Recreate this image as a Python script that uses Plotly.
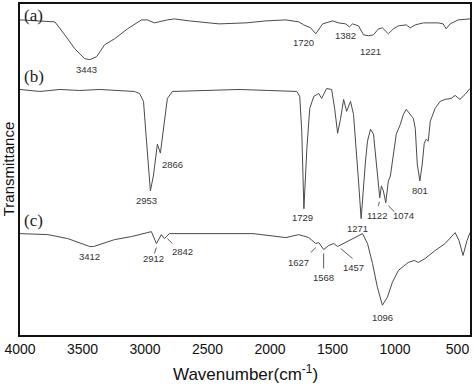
import plotly.graph_objects as go

# ---- data: wavenumber (cm-1) and relative transmittance (arbitrary, offset) ----
wn_a = [4000, 3721, 3642, 3562, 3482, 3442, 3387, 3323, 3243, 3140, 3028, 2980, 2925, 2869,
        2821, 2765, 2646, 2407, 2192, 2033, 1873, 1770, 1730, 1674, 1634, 1579, 1499, 1451,
        1396, 1364, 1340, 1292, 1252, 1212, 1172, 1133, 1101, 1053, 1013, 973, 910, 878, 838,
        774, 655, 615, 591, 559, 495, 400]
tr_a = [317, 315, 302, 288, 278, 277, 280, 292, 298, 308, 317, 317, 314, 316,
        317, 318, 316, 313, 314, 316, 317, 315, 312, 309, 303, 313, 316, 314,
        313, 310, 313, 311, 302, 301, 302, 308, 309, 303, 308, 311, 312, 309, 312,
        314, 314, 313, 308, 313, 317, 318]

wn_b = [4000, 3841, 3681, 3522, 3363, 3204, 3084, 3044, 3012, 2988, 2957, 2933, 2901, 2877,
        2845, 2821, 2781, 2566, 2248, 2009, 1786, 1762, 1746, 1729, 1705, 1682, 1650, 1610,
        1587, 1547, 1507, 1483, 1459, 1435, 1411, 1387, 1356, 1332, 1308, 1292, 1271, 1252,
        1236, 1220, 1196, 1172, 1149, 1122, 1109, 1093, 1074, 1053, 1037, 1013, 990, 957,
        933, 910, 878, 854, 838, 822, 801, 782, 766, 750, 734, 718, 679, 639, 599, 551,
        519, 480, 440, 400]
tr_b = [247, 245, 247, 246, 247, 246, 245, 243, 235, 195, 145, 160, 192, 183,
        215, 238, 245, 246, 247, 246, 245, 240, 205, 127, 188, 228, 240, 243,
        238, 248, 247, 228, 203, 218, 237, 225, 235, 222, 185, 155, 117, 150,
        175, 195, 207, 202, 172, 138, 150, 145, 133, 155, 160, 180, 202, 212,
        222, 227, 222, 218, 208, 172, 155, 172, 193, 197, 195, 215, 228, 235, 237, 238,
        241, 237, 242, 248]

wn_c = [4000, 3777, 3618, 3442, 3411, 3243, 3108, 2949, 2909, 2869, 2845, 2805, 2208, 2136,
        1873, 1770, 1690, 1634, 1610, 1571, 1531, 1491, 1459, 1372, 1292, 1260, 1220, 1180,
        1141, 1101, 1061, 1021, 973, 894, 846, 814, 758, 679, 599, 519, 488, 456, 424, 400]
tr_c = [102, 101, 97, 89, 89, 96, 99, 104, 92, 101, 97, 102, 102, 102,
        98, 101, 98, 92, 93, 86, 90, 92, 89, 95, 100, 102, 92, 72,
        48, 30, 38, 53, 65, 73, 75, 73, 77, 85, 92, 103, 95, 80, 95, 103]

panel_labels = ["(a)", "(b)", "(c)"]
peak_labels = ["3443", "1720", "1382", "1221",
               "2953", "2866", "1729", "1271", "1122", "1074", "801",
               "3412", "2912", "2842", "1627", "1568", "1457", "1096"]
x_ticks = [4000, 3500, 3000, 2500, 2000, 1500, 1000, 500]

LINE = "#4a4a4a"
TXT = "#333333"

fig = go.Figure()
for wn, tr in [(wn_a, tr_a), (wn_b, tr_b), (wn_c, tr_c)]:
    fig.add_trace(go.Scatter(x=wn, y=tr, mode="lines",
                             line=dict(color=LINE, width=1), showlegend=False,
                             hoverinfo="skip"))

# peak label positions (x in cm-1, y in plot units)
label_pos = [(3470, 267), (1730, 294), (1396, 301), (1196, 285),
             (2988, 135), (2781, 172), (1738, 118), (1300, 107), (1141, 120), (933, 120), (798, 145),
             (3442, 79), (2933, 77), (2702, 84), (1770, 73), (1571, 58), (1332, 68), (1101, 18)]
for txt, (px, py) in zip(peak_labels, label_pos):
    fig.add_annotation(x=px, y=py, text=txt, showarrow=False,
                       font=dict(family="Liberation Sans, Arial", size=9.5, color=TXT),
                       xanchor="center", yanchor="middle")

leaders = [((2909, 88), (2925, 82)), ((2821, 97), (2781, 92)),
           ((1674, 83), (1634, 88)), ((1571, 82), (1571, 67)),
           ((1435, 87), (1340, 77)), ((1133, 130), (1125, 134)),
           ((1053, 130), (1005, 124))]
for (x0, y0), (x1, y1) in leaders:
    fig.add_shape(type="line", x0=x0, y0=y0, x1=x1, y1=y1,
                  line=dict(color=TXT, width=0.8))

for txt, py in zip(panel_labels, [321, 260, 115]):
    fig.add_annotation(x=3985, y=py, text=txt, showarrow=False, xanchor="left",
                       yanchor="middle",
                       font=dict(family="Liberation Serif, Times New Roman", size=17, color="#222"))

# axis titles
fig.add_annotation(xref="paper", yref="paper", x=0.5, y=-0.115,
                   text="Wavenumber(cm<sup>-1</sup>)", showarrow=False,
                   xanchor="center", yanchor="middle",
                   font=dict(family="Liberation Sans, Arial", size=17, color="#111"))
fig.add_annotation(xref="paper", yref="paper", x=-0.025, y=0.5,
                   text="Transmittance", showarrow=False, textangle=-90,
                   xanchor="center", yanchor="middle",
                   font=dict(family="Liberation Sans, Arial", size=15, color="#111"))

fig.update_xaxes(range=[4000, 400], tickvals=x_ticks, ticktext=[str(t) for t in x_ticks],
                 showgrid=False, zeroline=False, showline=True, mirror=True,
                 linecolor="#111", linewidth=2, ticks="",
                 tickfont=dict(family="Liberation Sans, Arial", size=14, color="#111"))
fig.update_yaxes(range=[0, 333], showgrid=False, zeroline=False, showline=True, mirror=True,
                 linecolor="#111", linewidth=2, ticks="", showticklabels=False)

fig.update_layout(width=474, height=384, margin=dict(l=20, r=3, t=2, b=49),
                  plot_bgcolor="white", paper_bgcolor="white")
fig.write_html("out.html", config={"displayModeBar": False},
               post_script="document.body.style.margin='0';document.body.style.overflow='hidden';")
